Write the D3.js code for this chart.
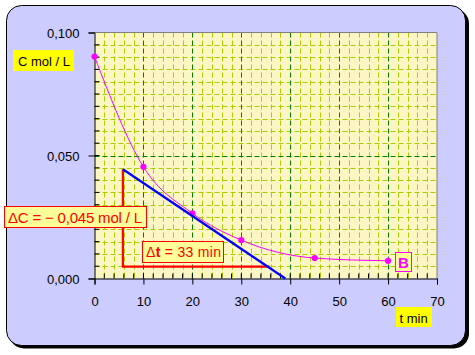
<!DOCTYPE html>
<html><head><meta charset="utf-8">
<script src="https://cdn.jsdelivr.net/npm/d3@7"></script>
<style>body{margin:0;background:#fff}svg{display:block;font-family:"Liberation Sans",Arial,sans-serif}</style>
</head><body>
<svg id="c" width="475" height="355"></svg>
<script>
// ---- data ----
const times = [0, 10, 20, 30, 45, 60];
const conc = [0.0902, 0.0454, 0.0265, 0.0156, 0.0083, 0.0072];
const tangentT = [5.8, 39];
const tangentC = [0.0444, 0.0];
const triangleT = [5.8, 5.8, 35.8];
const triangleC = [0.0444, 0.0048, 0.0048];
const xTicks = [0, 10, 20, 30, 40, 50, 60, 70];
const yTicks = [0, 0.05, 0.1];
const xLabel = "t min";
const yLabel = "C mol / L";
const seriesLabel = "B";
const dcLabel = "ΔC = − 0,045 mol / L";
const dtLabel = ["Δ", "t", " = 33 min"];

const svg = d3.select("#c");
const x = d3.scaleLinear().domain([0, 70]).range([94.5, 437]);
const y = d3.scaleLinear().domain([0, 0.1]).range([278.5, 32.5]);

// panel with shadow
svg.append("rect").attr("x", 9).attr("y", 8.5).attr("width", 460).attr("height", 340).attr("rx", 15).attr("fill", "#000");
svg.append("rect").attr("x", 6.5).attr("y", 5.5).attr("width", 459).attr("height", 340).attr("rx", 15)
  .attr("fill", "#ccccff").attr("stroke", "#000").attr("stroke-width", 1);

// plot bg
svg.append("rect").attr("x", x(0)).attr("y", y(0.1)).attr("width", x(70) - x(0)).attr("height", y(0) - y(0.1)).attr("fill", "#fcf6c4");

// grid
const g = svg.append("g");
const minorX = d3.range(2, 70, 2).filter(v => v % 10 !== 0);
const majorX = d3.range(10, 70, 10);
const minorY = d3.range(1, 20).map(i => i * 0.005).filter((v, i) => (i + 1) % 10 !== 0);
const majorY = [0.05];
g.selectAll(".mx").data(minorX).join("line").attr("x1", d => Math.round(x(d)) + 0.5).attr("x2", d => Math.round(x(d)) + 0.5)
  .attr("y1", y(0.1)).attr("y2", y(0)).attr("stroke", "#aacc00").attr("stroke-dasharray", "5,3");
g.selectAll(".my").data(minorY).join("line").attr("y1", d => Math.round(y(d)) + 0.5).attr("y2", d => Math.round(y(d)) + 0.5)
  .attr("x1", x(0)).attr("x2", x(70)).attr("stroke", "#aacc00").attr("stroke-dasharray", "5,3");
g.selectAll(".Mx").data(majorX).join("line").attr("x1", d => Math.round(x(d)) + 0.5).attr("x2", d => Math.round(x(d)) + 0.5)
  .attr("y1", y(0.1)).attr("y2", y(0)).attr("stroke", "#008000").attr("stroke-dasharray", "5,3");
g.selectAll(".My").data(majorY).join("line").attr("y1", d => Math.round(y(d)) + 0.5).attr("y2", d => Math.round(y(d)) + 0.5)
  .attr("x1", x(0)).attr("x2", x(70)).attr("stroke", "#008000").attr("stroke-dasharray", "5,3");

// border top/right
svg.append("path").attr("d", `M${x(0)},${y(0.1)}H${x(70)}V${y(0)}`).attr("fill", "none").attr("stroke", "#808080");

// axes
const fmtY = v => d3.format(".3f")(v).replace(".", ",");
const xAxis = d3.axisBottom(x).tickValues(xTicks).tickSize(6).tickPadding(12).tickFormat(d3.format("d"));
const xa = svg.append("g").attr("transform", `translate(0,${y(0)})`).call(xAxis);
const yAxis = d3.axisLeft(y).tickValues(yTicks).tickSize(6).tickPadding(9).tickFormat(fmtY);
const ya = svg.append("g").attr("transform", `translate(${x(0)},0)`).call(yAxis);
[xa, ya].forEach(a => {
  a.selectAll("text").attr("font-size", 13).attr("fill", "#000").attr("font-family", "Liberation Sans, Arial, sans-serif");
  a.selectAll("line").attr("stroke", "#000");
  a.select(".domain").attr("stroke", "#000");
});
ya.selectAll("text").attr("dy", "0.35em");
// minor ticks inward
svg.append("g").selectAll("line").data(d3.range(2, 70, 2)).join("line")
  .attr("x1", d => x(d)).attr("x2", d => x(d)).attr("y1", y(0)).attr("y2", y(0) - 5).attr("stroke", "#000");
svg.append("g").selectAll("line").data(d3.range(1, 20).map(i => i * 0.005)).join("line")
  .attr("y1", d => y(d)).attr("y2", d => y(d)).attr("x1", x(0)).attr("x2", x(0) + 5).attr("stroke", "#000");

// curve
const pts = times.map((t, i) => [t, conc[i]]);
svg.append("path").datum(pts).attr("fill", "none").attr("stroke", "#ff00ff").attr("stroke-width", 1)
  .attr("d", d3.line().x(d => x(d[0])).y(d => y(d[1])).curve(d3.curveMonotoneX));
svg.append("g").selectAll("path").data(pts).join("path")
  .attr("transform", d => `translate(${x(d[0])},${y(d[1])})`)
  .attr("d", d3.symbol(d3.symbolCircle, 30)).attr("fill", "#ff00ff");

// red triangle
const tri = triangleT.map((t, i) => [t, triangleC[i]]);
svg.append("path").datum(tri).attr("fill", "none").attr("stroke", "#ff0000").attr("stroke-width", 2.2)
  .attr("d", d3.line().x(d => x(d[0])).y(d => y(d[1])));
// tangent
const tan = tangentT.map((t, i) => [t, tangentC[i]]);
svg.append("path").datum(tan).attr("fill", "none").attr("stroke", "#0000ff").attr("stroke-width", 2.2)
  .attr("d", d3.line().x(d => x(d[0])).y(d => y(d[1])));

// labels
function box(x0, y0, w, h, fill, stroke) {
  return svg.append("rect").attr("x", x0).attr("y", y0).attr("width", w).attr("height", h)
    .attr("fill", fill).attr("stroke", stroke || "none").attr("stroke-width", 1);
}
box(13, 50, 61, 21, "#ffff00");
svg.append("text").attr("x", 18).attr("y", 66).attr("font-size", 13).text(yLabel);
box(396, 307, 36, 20, "#ffff00");
svg.append("text").attr("x", 399.5).attr("y", 322.5).attr("font-size", 13).text(xLabel);
box(395.5, 252.5, 16, 19, "#ffff99", "#ff00ff");
svg.append("text").attr("x", 403.5).attr("y", 267.5).attr("text-anchor", "middle").attr("font-size", 15)
  .attr("font-weight", "bold").attr("fill", "#ff00ff").text(seriesLabel);

box(4.5, 206.5, 142, 21, "#ffff99", "#ff0000");
svg.append("text").attr("x", 8).attr("y", 222.5).attr("font-size", 15).attr("fill", "#ff0000")
  .attr("textLength", 134).attr("lengthAdjust", "spacing").text(dcLabel);

box(142.5, 241.5, 81, 21, "#ffff99", "#ff0000");
const dt = svg.append("text").attr("x", 146).attr("y", 256.5).attr("font-size", 14).attr("fill", "#ff0000")
  .attr("textLength", 75).attr("lengthAdjust", "spacing");
dt.append("tspan").text(dtLabel[0]);
dt.append("tspan").attr("font-weight", "bold").text(dtLabel[1]);
dt.append("tspan").text(dtLabel[2]);
</script>
</body></html>
